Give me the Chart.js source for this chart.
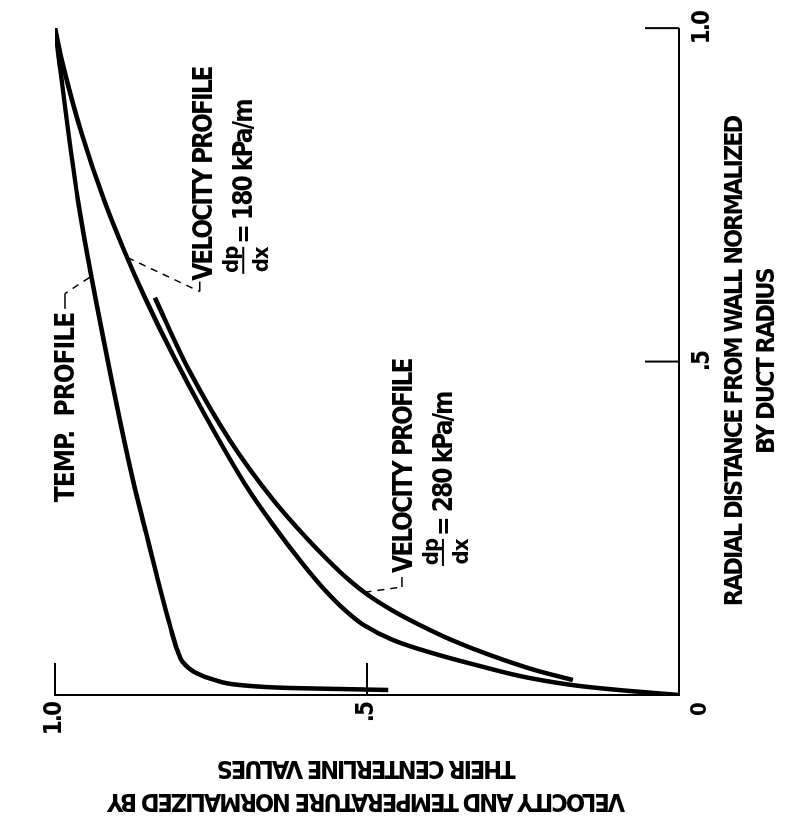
<!DOCTYPE html>
<html>
<head>
<meta charset="utf-8">
<script src="https://cdn.jsdelivr.net/npm/chart.js@4.4.1/dist/chart.umd.min.js"></script>
<style>
html, body { margin:0; padding:0; background:#fff; overflow:hidden; }
/* the figure is printed sideways, so the whole chart is turned a quarter turn */
#wrap { position:absolute; left:0; top:0; width:817px; height:793px;
        transform-origin:0 0; transform:translate(0,817px) rotate(-90deg); }
</style>
</head>
<body>
<div id="wrap"><canvas id="chart" width="817" height="793"></canvas></div>
<script>
// radial distance from wall (r) vs value normalized by centerline value
var tempR = [0.0075, 0.009, 0.0105, 0.015, 0.0225, 0.034, 0.049, 0.067, 0.093, 0.132, 0.183, 0.243, 0.322, 0.566, 0.741, 1.0];
var tempV = [0.466, 0.543, 0.623, 0.704, 0.744, 0.776, 0.795, 0.804, 0.8125, 0.824, 0.838, 0.854, 0.875, 0.929, 0.963, 1.0];

var vel180R = [0, 0.006, 0.0135, 0.0254, 0.0434, 0.0644, 0.0823, 0.1048, 0.127, 0.157, 0.198, 0.257, 0.317, 0.422, 0.506, 0.596, 0.666, 0.741, 0.841, 0.940, 1.0];
var vel180V = [0, 0.0785, 0.159, 0.239, 0.319, 0.401, 0.458, 0.505, 0.535, 0.567, 0.604, 0.652, 0.696, 0.761, 0.809, 0.856, 0.889, 0.921, 0.957, 0.986, 1.0];

var vel280R = [0.0225, 0.0374, 0.0599, 0.0823, 0.1048, 0.1272, 0.1497, 0.1751, 0.2021, 0.2365, 0.2934, 0.3817, 0.4865, 0.5958];
var vel280V = [0.170, 0.231, 0.303, 0.364, 0.415, 0.460, 0.498, 0.532, 0.5625, 0.598, 0.651, 0.7196, 0.785, 0.840];

var radialTicks = [0, 0.5, 1.0];
var radialTickLabels = ['', '.5', '1.0'];
var valueTicks = [0.5, 1.0];
var valueTickLabels = ['.5', '1.0'];

var FONT = '"DejaVu Sans Condensed", "DejaVu Sans", sans-serif';

function pts(rs, vs) {
    return rs.map(function (r, i) { return {x: r, y: vs[i]}; });
}

function curve(label, rs, vs) {
    return {
        label: label,
        data: pts(rs, vs),
        showLine: true,
        borderColor: '#000',
        borderWidth: 4.5,
        pointRadius: 0,
        cubicInterpolationMode: 'monotone',
        fill: false
    };
}

// ticks pointing into the plot, corner zero, curve labels and leaders
var extras = {
    id: 'extras',
    beforeDraw: function (chart) {
        chart.ctx.letterSpacing = '-2px';
    },
    afterDraw: function (chart) {
        var ctx = chart.ctx;
        var xs = chart.scales.x, ys = chart.scales.y;
        var X = function (r) { return xs.getPixelForValue(r); };
        var Y = function (v) { return ys.getPixelForValue(v); };
        ctx.save();
        ctx.strokeStyle = '#000';
        ctx.fillStyle = '#000';
        ctx.lineWidth = 2;
        radialTicks.forEach(function (t) {
            if (t === 0) return;
            ctx.beginPath();
            ctx.moveTo(X(t), ys.bottom);
            ctx.lineTo(X(t), ys.bottom - 34);
            ctx.stroke();
        });
        valueTicks.forEach(function (t) {
            ctx.beginPath();
            ctx.moveTo(xs.left, Y(t));
            ctx.lineTo(xs.left + 32, Y(t));
            ctx.stroke();
        });

        ctx.letterSpacing = '0px';
        ctx.font = 'bold 22px ' + FONT;
        ctx.textAlign = 'center';
        ctx.textBaseline = 'middle';
        ctx.fillText('0', X(0) - 14, Y(0) + 21);

        function leader(p, corner, end) {
            ctx.lineWidth = 1.5;
            ctx.setLineDash([7, 6]);
            ctx.beginPath();
            ctx.moveTo(X(p[0]), Y(p[1]));
            ctx.lineTo(X(corner[0]), Y(corner[1]));
            ctx.stroke();
            ctx.setLineDash([]);
            ctx.beginPath();
            ctx.moveTo(X(corner[0]), Y(corner[1]));
            ctx.lineTo(X(end[0]), Y(end[1]));
            ctx.stroke();
        }
        leader([0.626, 0.945], [0.602, 0.984], [0.579, 0.984]);
        leader([0.656, 0.884], [0.605, 0.768], [0.620, 0.768]);
        leader([0.154, 0.504], [0.162, 0.444], [0.177, 0.444]);

        ctx.textBaseline = 'alphabetic';
        ctx.font = 'bold 26px ' + FONT;
        ctx.letterSpacing = '-1px';
        ctx.textAlign = 'right';
        ctx.fillText('TEMP.  PROFILE', X(0.573), Y(0.970));

        function velocity(r, v, rate) {
            var x0 = X(r), y0 = Y(v);
            ctx.font = 'bold 26px ' + FONT;
            ctx.letterSpacing = '-2px';
            ctx.textAlign = 'left';
            ctx.fillText('VELOCITY PROFILE', x0, y0);
            ctx.font = 'bold 22px ' + FONT;
            ctx.letterSpacing = '-1px';
            ctx.textAlign = 'center';
            ctx.fillText('dp', x0 + 21, y0 + 26);
            ctx.fillText('dx', x0 + 21, y0 + 56);
            ctx.lineWidth = 2;
            ctx.beginPath();
            ctx.moveTo(x0 + 7, y0 + 31);
            ctx.lineTo(x0 + 34, y0 + 31);
            ctx.stroke();
            ctx.font = 'bold 26px ' + FONT;
            ctx.letterSpacing = '-2px';
            ctx.textAlign = 'left';
            ctx.fillText('= ' + rate + ' kPa/m', x0 + 37, y0 + 40);
        }
        velocity(0.621, 0.748, 180);
        velocity(0.183, 0.428, 280);
        ctx.restore();
    }
};

var chart = new Chart(document.getElementById('chart').getContext('2d'), {
    type: 'scatter',
    data: {
        datasets: [
            curve('Temp. profile', tempR, tempV),
            curve('Velocity profile 180 kPa/m', vel180R, vel180V),
            curve('Velocity profile 280 kPa/m', vel280R, vel280V)
        ]
    },
    options: {
        responsive: false,
        animation: false,
        layout: { padding: { left: 0, top: 55, right: 27, bottom: 0 } },
        plugins: { legend: { display: false }, tooltip: { enabled: false } },
        scales: {
            x: {
                type: 'linear', min: 0, max: 1,
                afterBuildTicks: function (s) { s.ticks = radialTicks.map(function (t) { return {value: t}; }); },
                afterFit: function (s) { s.height = 114; },
                grid: { drawOnChartArea: false, drawTicks: false },
                border: { display: true, color: '#000', width: 2 },
                ticks: {
                    color: '#000', padding: 9, maxRotation: 0,
                    font: { family: FONT, size: 24, weight: 'bold' },
                    callback: function (v, i) { return radialTickLabels[i]; }
                },
                title: {
                    display: true,
                    text: ['RADIAL DISTANCE FROM WALL NORMALIZED', 'BY DUCT RADIUS'],
                    color: '#000',
                    font: { family: FONT, size: 25, weight: 'bold', lineHeight: 32 / 25 },
                    padding: { top: 0, bottom: 10 }
                }
            },
            y: {
                type: 'linear', min: 0, max: 1,
                afterBuildTicks: function (s) { s.ticks = valueTicks.map(function (t) { return {value: t}; }); },
                afterFit: function (s) { s.width = 122; },
                grid: { drawOnChartArea: false, drawTicks: false },
                border: { display: true, color: '#000', width: 2 },
                ticks: {
                    color: '#000', padding: 8,
                    font: { family: FONT, size: 24, weight: 'bold' },
                    callback: function (v, i) { return valueTickLabels[i]; }
                },
                title: {
                    display: true,
                    text: ['VELOCITY AND TEMPERATURE NORMALIZED BY', 'THEIR CENTERLINE VALUES'],
                    color: '#000',
                    font: { family: FONT, size: 25, weight: 'bold', lineHeight: 33 / 25 },
                    padding: { top: 0, bottom: 0 }
                }
            }
        }
    },
    plugins: [extras]
});
</script>
</body>
</html>
